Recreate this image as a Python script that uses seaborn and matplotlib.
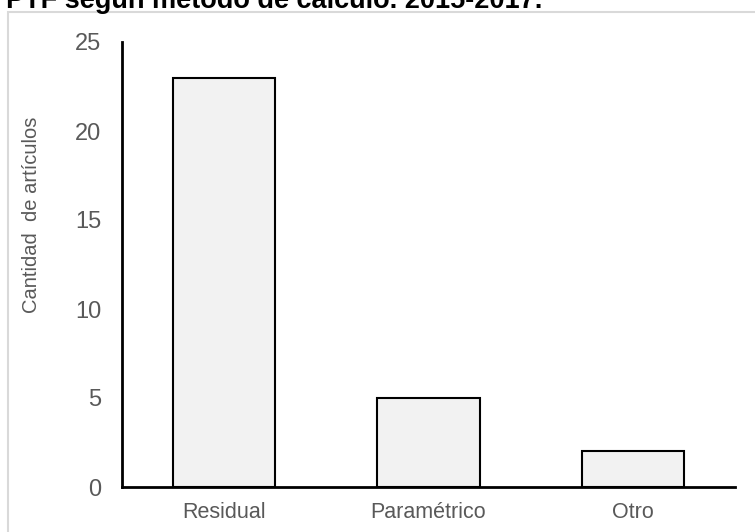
import matplotlib
matplotlib.use("Agg")
import matplotlib.pyplot as plt
import seaborn as sns
import pandas as pd
from matplotlib.patches import Rectangle

# Data: number of articles by calculation method
metodos = ["Residual", "Paramétrico", "Otro"]
articulos = [23, 5, 2]
yticks = [0, 5, 10, 15, 20, 25]

titulo = "PTF según método de cálculo. 2015-2017."
ylabel = "Cantidad  de artículos"

df = pd.DataFrame({"metodo": metodos, "articulos": articulos})

sns.set_theme(style="white")
plt.rcParams["font.family"] = ["Liberation Sans", "DejaVu Sans"]

W, H = 755, 532
fig = plt.figure(figsize=(W / 100, H / 100), dpi=100)

# light grey chart-area frame
frame = Rectangle((8 / W, -0.05), 1.2, 1 - 12 / H + 0.05,
                  transform=fig.transFigure, fill=False,
                  edgecolor="#d9d9d9", linewidth=1.5, zorder=0)
fig.patches.append(frame)

# title partly cut at the top edge
fig.text(6 / W, 1 - 8.5 / H, titulo, fontsize=19.5, fontweight="bold",
         color="black", ha="left", va="baseline")

ax = fig.add_axes([122 / W, 1 - 487 / H, (735 - 122) / W, (487 - 42) / H])
sns.barplot(data=df, x="metodo", y="articulos", ax=ax, width=0.5,
            color="#f2f2f2", edgecolor="black", linewidth=1.5,
            saturation=1)

ax.set_xlim(-0.5, 2.5)
ax.set_ylim(0, 25)
ax.set_yticks(yticks)
ax.set_yticklabels([str(v) for v in yticks])
ax.set_xlabel("")
ax.set_ylabel(ylabel, fontsize=14.5, color="#595959")
ax.yaxis.set_label_coords(-81 / (735 - 122), (487 - 215) / (487 - 42))

ax.tick_params(axis="y", length=0, pad=15, labelsize=17, labelcolor="#595959")
ax.tick_params(axis="x", length=0, pad=11, labelsize=15.5, labelcolor="#595959")

for side in ["top", "right"]:
    ax.spines[side].set_visible(False)
for side in ["left", "bottom"]:
    ax.spines[side].set_color("black")
    ax.spines[side].set_linewidth(2)
ax.patch.set_alpha(0)

fig.savefig("out.png", dpi=100)
